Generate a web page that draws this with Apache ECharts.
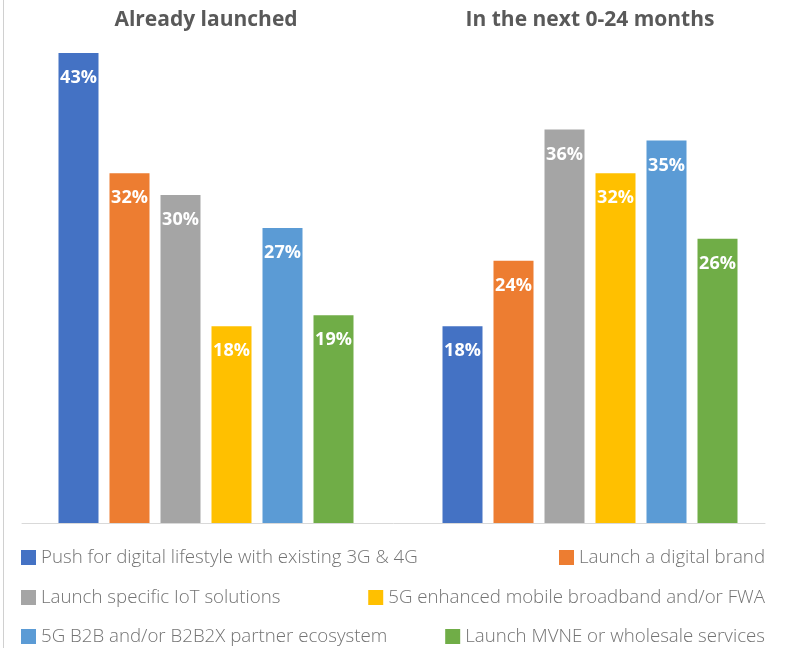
<!DOCTYPE html>
<html>
<head>
<meta charset="utf-8">
<script src="https://cdn.jsdelivr.net/npm/echarts@6/dist/echarts.min.js"></script>
<style>
  html, body { margin: 0; padding: 0; background: #ffffff; }
  #chart { width: 785px; height: 648px; }
</style>
</head>
<body>
<div id="chart"></div>
<script>
// Timing groups shown as columns
const periods = ['Already launched', 'In the next 0-24 months'];

// Initiatives (one bar per initiative in each group)
const initiatives = [
  'Push for digital lifestyle with existing 3G & 4G',
  'Launch a digital brand',
  'Launch specific IoT solutions',
  '5G enhanced mobile broadband and/or FWA',
  '5G B2B and/or B2B2X partner ecosystem',
  'Launch MVNE or wholesale services'
];

// Share of operators (%) per initiative: [already launched, next 0-24 months]
const pushDigitalLifestyle = [43, 18];
const digitalBrand = [32, 24];
const iotSolutions = [30, 36];
const enhancedBroadband5G = [18, 32];
const b2bEcosystem5G = [27, 35];
const mvneWholesale = [19, 26];

const seriesValues = [
  pushDigitalLifestyle, digitalBrand, iotSolutions,
  enhancedBroadband5G, b2bEcosystem5G, mvneWholesale
];

const palette = ['#4472C4', '#ED7D31', '#A5A5A5', '#FFC000', '#5B9BD5', '#70AD47'];
const FONT = '"Open Sans", "Noto Sans", sans-serif';

const chart = echarts.init(document.getElementById('chart'), null, { renderer: 'canvas' });

const series = initiatives.map((name, i) => ({
  name: name,
  type: 'bar',
  xAxisIndex: 0,
  yAxisIndex: 0,
  barWidth: 40,
  barGap: '27.5%',
  itemStyle: { color: palette[i] },
  label: {
    show: true,
    position: 'insideTop',
    distance: 16,
    formatter: '{c}%',
    color: '#ffffff',
    fontFamily: FONT,
    fontWeight: 'bold',
    fontSize: 18
  },
  data: seriesValues[i]
}));

// Two-column legend: left column left-aligned, right column right-aligned
const legendRows = [548, 588, 627];
const legends = initiatives.map((name, i) => {
  const row = Math.floor(i / 2);
  const lg = {
    data: [name],
    top: legendRows[row],
    padding: 0,
    itemWidth: 15,
    itemHeight: 15,
    icon: 'rect',
    selectedMode: false,
    textStyle: { fontFamily: FONT, fontSize: 18.7, fontWeight: 300, color: '#737373' }
  };
  if (i % 2 === 0) lg.left = 21; else lg.right = 20;
  return lg;
});

chart.setOption({
  backgroundColor: '#ffffff',
  animation: false,
  grid: [
    { left: 14, right: 3, top: 53, bottom: 125 },
    { left: 22, right: 20, top: 53, bottom: 125 }
  ],
  xAxis: [
    {
      type: 'category',
      gridIndex: 0,
      position: 'top',
      data: periods,
      axisLine: { show: false },
      axisTick: { show: false },
      axisLabel: {
        margin: 22,
        fontFamily: FONT,
        fontWeight: 'bold',
        fontSize: 21,
        color: '#595959'
      }
    },
    {
      type: 'category',
      gridIndex: 1,
      data: [],
      axisLine: { show: true, lineStyle: { color: '#d9d9d9', width: 1 } },
      axisTick: { show: false },
      axisLabel: { show: false }
    }
  ],
  yAxis: [
    { type: 'value', gridIndex: 0, min: 0, max: 43, show: false },
    { type: 'value', gridIndex: 1, min: 0, max: 43, show: false }
  ],
  legend: legends,
  graphic: [
    {
      type: 'line',
      shape: { x1: 3.5, y1: 0, x2: 3.5, y2: 648 },
      style: { stroke: '#d0d0d0', lineWidth: 1 },
      silent: true
    }
  ],
  series: series
});
</script>
</body>
</html>
